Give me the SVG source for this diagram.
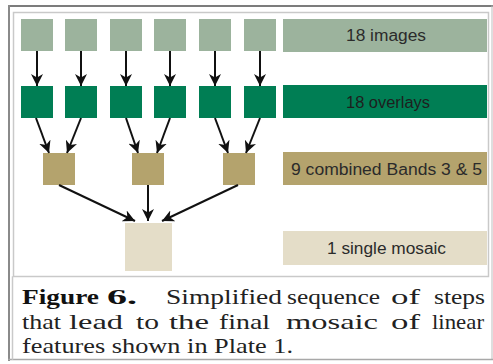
<svg xmlns="http://www.w3.org/2000/svg" width="493" height="364" viewBox="0 0 493 364">
<defs>
<marker id="ah" viewBox="0 0 12 12" refX="12" refY="6" markerWidth="12" markerHeight="12" markerUnits="userSpaceOnUse" orient="auto">
<path d="M0,0 L12,6 L0,12 L3.5,6 Z" fill="#111"/>
</marker>
</defs>
<style>
.img{fill:#9cb39d}
.ovl{fill:#007e54}
.cmb{fill:#b4a36d}
.mos{fill:#e4ddc8}
.lbl{font-family:"Liberation Sans",Arial,sans-serif;font-size:16px;text-anchor:middle;fill:#2b2b2b}
.cap{font-family:"Liberation Serif","Times New Roman",serif;font-size:22px;fill:#222}
.capb{font-weight:bold;fill:#111}
.con line{stroke:#111;stroke-width:2;marker-end:url(#ah)}
.frame{fill:none;stroke-linecap:square}
</style>
<rect x="0" y="0" width="493" height="364" fill="#fff"/>
<g id="frame" class="frame">
<line x1="9" y1="6" x2="493" y2="6" stroke="#7c7c7c" stroke-width="2"/>
<line x1="9" y1="6" x2="9" y2="360" stroke="#8a8a8a" stroke-width="2"/>
<line x1="492" y1="6" x2="492" y2="359" stroke="#bdbdbd" stroke-width="1"/>
<line x1="9" y1="359.5" x2="493" y2="359.5" stroke="#a8a8a8" stroke-width="1.5"/>
<rect x="13.5" y="12.5" width="475" height="264" stroke="#c9c9c9" stroke-width="1.5"/>
<line x1="12.5" y1="277" x2="12.5" y2="359" stroke="#c9c9c9" stroke-width="1.5"/>
</g>

<g id="row-images">
<rect class="img" x="21" y="19" width="32" height="32"/>
<rect class="img" x="65" y="19" width="32" height="32"/>
<rect class="img" x="110" y="19" width="32" height="32"/>
<rect class="img" x="154" y="19" width="32" height="32"/>
<rect class="img" x="199" y="19" width="32" height="32"/>
<rect class="img" x="244" y="19" width="32" height="32"/>
</g>
<g id="label-images">
<rect class="img" x="283" y="19" width="204" height="33"/>
<text class="lbl" x="386" y="41" textLength="80" lengthAdjust="spacingAndGlyphs">18 images</text>
</g>

<g id="row-overlays">
<rect class="ovl" x="21" y="86" width="32" height="32"/>
<rect class="ovl" x="65" y="86" width="32" height="32"/>
<rect class="ovl" x="110" y="86" width="32" height="32"/>
<rect class="ovl" x="154" y="86" width="32" height="32"/>
<rect class="ovl" x="199" y="86" width="32" height="32"/>
<rect class="ovl" x="244" y="86" width="32" height="32"/>
</g>
<g id="label-overlays">
<rect class="ovl" x="283" y="85" width="204" height="33"/>
<text class="lbl" x="388" y="107.5" textLength="84" lengthAdjust="spacingAndGlyphs" style="fill:#1e1e1e">18 overlays</text>
</g>

<g id="row-combined">
<rect class="cmb" x="43" y="153" width="32" height="32"/>
<rect class="cmb" x="132" y="153" width="32" height="32"/>
<rect class="cmb" x="223" y="153" width="32" height="32"/>
</g>
<g id="label-combined">
<rect class="cmb" x="283" y="152" width="204" height="33"/>
<text class="lbl" x="386.5" y="175" textLength="191" lengthAdjust="spacingAndGlyphs">9 combined Bands 3 &amp; 5</text>
</g>

<g id="mosaic">
<rect class="mos" x="125" y="223" width="47" height="48"/>
</g>
<g id="label-mosaic">
<rect class="mos" x="283" y="231" width="204" height="34"/>
<text class="lbl" x="386.5" y="253.5" textLength="119" lengthAdjust="spacingAndGlyphs">1 single mosaic</text>
</g>

<g id="connectors" class="con">
<line x1="37" y1="51" x2="37" y2="86"/>
<line x1="81" y1="51" x2="81" y2="86"/>
<line x1="126" y1="51" x2="126" y2="86"/>
<line x1="170" y1="51" x2="170" y2="86"/>
<line x1="215" y1="51" x2="215" y2="86"/>
<line x1="260" y1="51" x2="260" y2="86"/>

<line x1="36" y1="118" x2="49" y2="153"/>
<line x1="81" y1="118" x2="67" y2="153"/>
<line x1="126" y1="118" x2="138" y2="153"/>
<line x1="170" y1="118" x2="157" y2="153"/>
<line x1="215" y1="118" x2="228" y2="153"/>
<line x1="260" y1="118" x2="246" y2="153"/>

<line x1="59" y1="185" x2="135" y2="221"/>
<line x1="148" y1="185" x2="148" y2="221"/>
<line x1="238" y1="185" x2="162" y2="221"/>
</g>

<g id="caption">
<text class="cap capb" x="22" y="303.5" textLength="77" lengthAdjust="spacingAndGlyphs">Figure</text>
<text class="cap capb" x="107" y="303.5" textLength="30" lengthAdjust="spacingAndGlyphs">6.</text>
<text class="cap" x="166" y="303.5" textLength="116" lengthAdjust="spacingAndGlyphs">Simplified</text>
<text class="cap" x="287" y="303.5" textLength="93" lengthAdjust="spacingAndGlyphs">sequence</text>
<text class="cap" x="391" y="303.5" textLength="29" lengthAdjust="spacingAndGlyphs">of</text>
<text class="cap" x="434" y="303.5" textLength="51" lengthAdjust="spacingAndGlyphs">steps</text>

<text class="cap" x="22" y="328.5" textLength="39" lengthAdjust="spacingAndGlyphs">that</text>
<text class="cap" x="69" y="328.5" textLength="54" lengthAdjust="spacingAndGlyphs">lead</text>
<text class="cap" x="136" y="328.5" textLength="23" lengthAdjust="spacingAndGlyphs">to</text>
<text class="cap" x="169" y="328.5" textLength="40" lengthAdjust="spacingAndGlyphs">the</text>
<text class="cap" x="219" y="328.5" textLength="51" lengthAdjust="spacingAndGlyphs">final</text>
<text class="cap" x="286" y="328.5" textLength="92" lengthAdjust="spacingAndGlyphs">mosaic</text>
<text class="cap" x="391" y="328.5" textLength="29" lengthAdjust="spacingAndGlyphs">of</text>
<text class="cap" x="432" y="328.5" textLength="52" lengthAdjust="spacingAndGlyphs">linear</text>

<text class="cap" x="22" y="353" textLength="271" lengthAdjust="spacingAndGlyphs">features shown in Plate 1.</text>
</g>
</svg>
